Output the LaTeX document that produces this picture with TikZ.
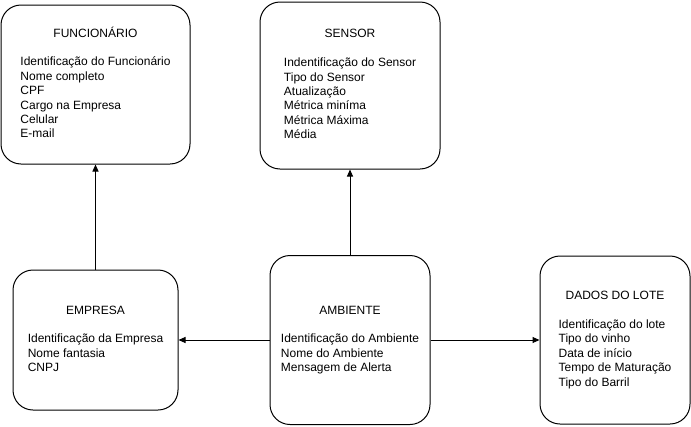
\documentclass[tikz,border=0pt]{standalone}
\usepackage{fontspec}
\setmainfont{Liberation Sans}
\usetikzlibrary{arrows.meta}
\definecolor{linecol}{HTML}{000000}

\tikzset{
  entity/.style={draw=linecol, line width=1pt, rounded corners=20pt, inner sep=0pt},
  link/.style={draw=linecol, line width=1pt, -{Triangle[length=7pt,width=6pt]}}
}
\newcommand{\entbody}[2]{\begin{tabular}{@{}l@{}}\multicolumn{1}{@{}c@{}}{#1}\\ \\ #2\end{tabular}}

\begin{document}
\begin{tikzpicture}[x=1pt, y=-1pt, font=\fontsize{12}{14.4}\selectfont]
  \useasboundingbox (0,0) rectangle (691,426);
  % upper row
  \node[entity, minimum width=189pt, minimum height=159pt] (fun) at (95.5,84.5)
    {\entbody{FUNCIONÁRIO}{Identificação do Funcionário\\ Nome completo\\ CPF\\ Cargo na Empresa\\ Celular\\ E-mail}};
  \node[entity, minimum width=180pt, minimum height=167pt] (sen) at (350,85.5)
    {\entbody{SENSOR}{Indentificação do Sensor\\ Tipo do Sensor\\ Atualização\\ Métrica miníma\\ Métrica Máxima\\ Média}};
  % lower row
  \node[entity, minimum width=165pt, minimum height=140pt] (emp) at (95.5,340)
    {\entbody{EMPRESA}{Identificação da Empresa\\ Nome fantasia\\ CNPJ}};
  \node[entity, minimum width=160pt, minimum height=169pt] (amb) at (350,340)
    {\entbody{AMBIENTE}{Identificação do Ambiente\\ Nome do Ambiente\\ Mensagem de Alerta}};
  \node[entity, minimum width=150pt, minimum height=168pt] (lote) at (615,340)
    {\entbody{DADOS DO LOTE}{Identificação do lote\\ Tipo do vinho\\ Data de início\\ Tempo de Maturação\\ Tipo do Barril}};
  % connectors
  \draw[link] (emp.north) -- (fun.south);
  \draw[link] (amb.north) -- (sen.south);
  \draw[link] (amb.west) -- (emp.east);
  \draw[link] (amb.east) -- (lote.west);
\end{tikzpicture}
\end{document}
